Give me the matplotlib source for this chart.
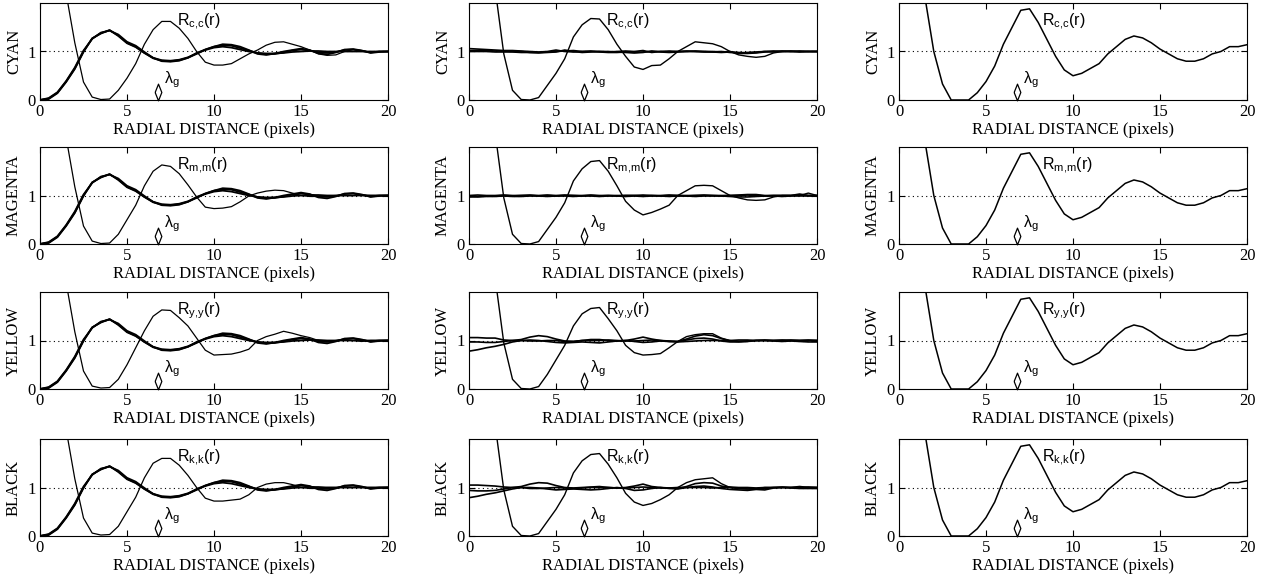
import numpy as np
import matplotlib
matplotlib.use("Agg")
import matplotlib.pyplot as plt

##### Data #####
r = np.arange(0, 20.01, 0.5) # radial distance grid (pixels)

rows = ["CYAN", "MAGENTA", "YELLOW", "BLACK"]
subs = ["c{,}c", "m{,}m", "y{,}y", "k{,}k"]
lam_g = [6.8, 6.6, 6.8] # lambda_g position per column

# left column: single-colour R(r) and the bundle of pair correlations
left_bundle = [
    [0.0, 0.03, 0.15, 0.38, 0.65, 1.0, 1.27, 1.38, 1.44, 1.33,
     1.18, 1.1, 0.97, 0.87, 0.82, 0.81, 0.83, 0.88, 0.96, 1.03,
     1.08, 1.1, 1.08, 1.04, 1.0, 0.97, 0.96, 0.96, 0.97, 0.99,
     1.0, 1.01, 1.01, 1.0, 1.0, 1.0, 1.0, 1.0, 1.0, 1.0, 1.0],
    [0.0, 0.04, 0.16, 0.39, 0.67, 1.02, 1.26, 1.39, 1.43, 1.35,
     1.2, 1.12, 0.99, 0.87, 0.8, 0.79, 0.81, 0.87, 0.95, 1.04,
     1.1, 1.13, 1.12, 1.07, 1.02, 0.97, 0.94, 0.95, 0.98, 1.02,
     1.04, 1.02, 0.98, 0.97, 0.99, 1.03, 1.04, 1.01, 0.98, 1.0, 1.0],
    [0.0, 0.02, 0.14, 0.37, 0.64, 0.99, 1.27, 1.37, 1.44, 1.32,
     1.17, 1.09, 0.97, 0.86, 0.81, 0.8, 0.82, 0.87, 0.97, 1.04,
     1.1, 1.15, 1.14, 1.1, 1.03, 0.95, 0.93, 0.96, 1.0, 1.03,
     1.06, 1.03, 0.96, 0.94, 0.98, 1.04, 1.05, 1.02, 0.97, 0.99, 1.0],
]
left_R = [
    [9.0, 7.0, 4.5, 2.2, 1.18, 0.37, 0.06, 0.01, 0.02, 0.2,
     0.45, 0.75, 1.15, 1.45, 1.62, 1.62, 1.48, 1.27, 1.0, 0.78,
     0.72, 0.72, 0.75, 0.85, 0.95, 1.03, 1.13, 1.19, 1.2, 1.15,
     1.1, 1.03, 0.95, 0.92, 0.93, 1.0, 1.04, 1.02, 0.98, 1.0, 1.0],
    [9.0, 7.0, 4.5, 2.2, 1.18, 0.37, 0.06, 0.01, 0.02, 0.2,
     0.5, 0.8, 1.2, 1.5, 1.63, 1.6, 1.45, 1.22, 0.97, 0.76,
     0.73, 0.74, 0.77, 0.87, 0.99, 1.05, 1.09, 1.11, 1.1, 1.05,
     1.0, 0.98, 0.98, 0.99, 1.0, 1.0, 1.0, 1.01, 1.0, 1.0, 1.0],
    [9.0, 7.0, 4.5, 2.2, 1.18, 0.37, 0.06, 0.02, 0.03, 0.2,
     0.5, 0.85, 1.2, 1.5, 1.63, 1.62, 1.47, 1.3, 1.05, 0.8,
     0.7, 0.71, 0.72, 0.76, 0.82, 1.0, 1.08, 1.13, 1.19, 1.15,
     1.1, 1.06, 1.0, 0.98, 1.0, 1.02, 1.0, 0.98, 1.0, 1.0, 1.0],
    [9.0, 7.0, 4.5, 2.2, 1.18, 0.37, 0.06, 0.02, 0.03, 0.2,
     0.5, 0.8, 1.2, 1.5, 1.6, 1.6, 1.46, 1.25, 1.0, 0.78,
     0.72, 0.72, 0.74, 0.76, 0.85, 1.0, 1.07, 1.1, 1.1, 1.06,
     1.0, 0.98, 0.98, 1.0, 1.0, 1.0, 1.0, 1.0, 1.0, 1.0, 1.0],
]

# middle column: R(r) and the flat cross terms
mid_R = [
    [8.0, 6.0, 4.0, 2.3, 0.95, 0.2, 0.01, 0.0, 0.05, 0.3,
     0.55, 0.85, 1.3, 1.55, 1.68, 1.67, 1.45, 1.15, 0.9, 0.68,
     0.63, 0.71, 0.72, 0.85, 1.0, 1.1, 1.2, 1.18, 1.16, 1.1,
     1.0, 0.93, 0.9, 0.88, 0.9, 0.97, 1.0, 1.0, 1.0, 1.0, 1.0],
    [8.0, 6.0, 4.0, 2.3, 0.95, 0.2, 0.01, 0.0, 0.05, 0.3,
     0.55, 0.85, 1.3, 1.55, 1.7, 1.72, 1.5, 1.2, 0.88, 0.7,
     0.6, 0.65, 0.72, 0.8, 1.0, 1.1, 1.2, 1.21, 1.2, 1.1,
     1.0, 0.95, 0.91, 0.9, 0.91, 0.97, 1.0, 1.0, 1.0, 1.05, 1.0],
    [8.0, 6.0, 4.0, 2.3, 0.95, 0.2, 0.01, 0.0, 0.05, 0.3,
     0.6, 0.9, 1.3, 1.55, 1.66, 1.68, 1.45, 1.2, 0.9, 0.75,
     0.7, 0.71, 0.73, 0.85, 0.98, 1.08, 1.12, 1.14, 1.14, 1.05,
     1.0, 0.98, 0.98, 1.0, 1.0, 1.0, 1.0, 1.0, 1.0, 1.0, 1.0],
    [8.0, 6.0, 4.0, 2.3, 0.95, 0.2, 0.01, 0.0, 0.05, 0.3,
     0.55, 0.85, 1.3, 1.55, 1.68, 1.7, 1.48, 1.2, 0.88, 0.7,
     0.63, 0.67, 0.75, 0.85, 1.0, 1.1, 1.16, 1.18, 1.2, 1.08,
     1.0, 0.98, 0.97, 0.98, 1.0, 1.0, 1.0, 1.0, 1.0, 1.0, 1.0],
]
mid_cyan = [
    [1.06, 1.05, 1.04, 1.03, 1.02, 1.02, 1.01, 1.0, 0.99, 1.0,
     1.03, 1.0, 0.99, 1.0, 1.01, 1.0, 0.99, 1.0, 1.01, 1.0,
     1.02, 0.98, 1.0, 1.01, 1.0, 1.0, 1.01, 1.0, 0.99, 1.0,
     0.98, 0.97, 0.98, 0.99, 1.0, 1.01, 1.0, 1.01, 1.0, 1.0, 1.0],
    [1.02, 1.02, 1.02, 1.01, 1.01, 1.0, 1.0, 0.98, 0.97, 0.98,
     0.99, 1.03, 1.0, 0.98, 0.99, 1.0, 1.0, 0.99, 0.98, 0.97,
     0.98, 1.01, 0.99, 0.98, 0.99, 1.0, 1.0, 1.0, 1.0, 0.99,
     1.0, 0.96, 0.96, 0.97, 0.99, 1.0, 1.01, 1.0, 0.99, 1.0, 1.0],
    [1.0, 1.0, 1.0, 0.99, 0.99, 0.99, 0.98, 0.98, 0.98, 0.99,
     1.0, 1.01, 1.02, 1.0, 1.0, 0.99, 0.98, 0.98, 0.99, 0.98,
     0.99, 1.0, 1.0, 0.99, 1.0, 1.01, 1.0, 0.99, 0.99, 0.98,
     0.99, 0.98, 0.97, 0.98, 1.0, 0.99, 1.0, 1.0, 1.01, 1.0, 1.0],
]
mid_magenta = [
    [1.0, 1.01, 1.0, 1.0, 1.01, 1.0, 1.0, 1.01, 1.0, 1.01,
     1.0, 1.01, 1.0, 1.0, 1.01, 1.0, 1.0, 1.0, 1.0, 1.0,
     1.01, 1.0, 1.0, 1.01, 1.0, 1.0, 1.0, 1.01, 1.0, 1.0,
     1.0, 1.01, 1.02, 1.02, 1.0, 1.0, 1.0, 1.0, 1.03, 1.0, 1.0],
    [0.98, 0.97, 0.98, 0.98, 0.99, 0.98, 0.98, 0.99, 0.99, 0.98,
     0.99, 0.99, 0.98, 0.99, 0.99, 0.98, 0.99, 0.99, 0.98, 0.99,
     0.98, 0.99, 0.99, 0.98, 0.99, 0.99, 0.98, 0.99, 0.99, 0.99,
     0.98, 0.97, 0.97, 0.98, 0.99, 0.99, 0.98, 0.99, 0.99, 0.99, 0.99],
    [0.97, 0.98, 0.99, 0.99, 1.0, 0.99, 1.0, 1.0, 0.99, 1.0,
     0.99, 1.0, 1.0, 0.99, 1.0, 0.99, 1.0, 0.99, 1.0, 1.0,
     0.99, 1.0, 0.99, 1.0, 1.0, 0.99, 1.0, 1.0, 1.0, 0.99,
     1.0, 1.0, 1.01, 1.0, 0.99, 1.0, 1.0, 1.0, 1.01, 1.0, 1.0],
]
mid_yellow = [
    [1.06, 1.06, 1.05, 1.05, 1.01, 1.0, 1.02, 1.07, 1.1, 1.08,
     1.03, 0.99, 0.98, 1.0, 1.02, 1.02, 1.0, 0.99, 1.0, 1.03,
     1.07, 1.03, 1.0, 0.99, 0.98, 1.03, 1.09, 1.12, 1.1, 1.04,
     0.99, 0.98, 0.99, 1.0, 1.01, 1.0, 1.0, 1.01, 1.0, 1.0, 1.0],
    [0.78, 0.81, 0.85, 0.88, 0.92, 0.97, 1.0, 1.01, 1.0, 0.98,
     0.96, 0.95, 0.96, 0.97, 0.96, 0.95, 0.97, 0.99, 1.0, 0.98,
     0.96, 0.97, 0.99, 0.98, 0.98, 1.01, 1.04, 1.05, 1.03, 0.99,
     0.97, 0.97, 0.98, 1.0, 1.0, 0.99, 0.98, 0.99, 0.98, 0.97, 0.97],
    [0.97, 0.97, 0.96, 0.96, 0.98, 1.0, 1.0, 0.99, 0.99, 1.0,
     1.0, 0.98, 0.98, 1.0, 1.0, 1.0, 1.01, 1.0, 0.99, 0.99,
     1.0, 1.01, 1.0, 0.98, 0.97, 0.98, 0.99, 1.0, 1.0, 1.0,
     1.0, 1.01, 1.01, 1.0, 1.0, 1.0, 1.01, 1.0, 1.0, 1.01, 1.0],
]
mid_black = [
    [1.05, 1.05, 1.04, 1.03, 1.01, 1.0, 1.02, 1.07, 1.1, 1.09,
     1.04, 1.0, 0.99, 1.0, 1.01, 1.02, 1.0, 0.99, 1.0, 1.03,
     1.07, 1.02, 1.0, 0.99, 0.98, 1.02, 1.08, 1.1, 1.09, 1.03,
     1.0, 0.98, 0.97, 0.97, 0.98, 1.0, 1.01, 1.0, 1.02, 1.0, 1.0],
    [0.79, 0.82, 0.86, 0.89, 0.93, 0.97, 1.0, 1.0, 0.99, 0.97,
     0.95, 0.96, 0.97, 0.96, 0.95, 0.96, 0.98, 1.0, 0.98, 0.94,
     0.95, 0.98, 1.0, 0.98, 0.97, 1.0, 1.02, 1.03, 1.01, 0.98,
     0.96, 0.95, 0.94, 0.96, 0.95, 0.99, 1.0, 0.99, 0.98, 0.98, 0.98],
    [0.94, 0.93, 0.93, 0.94, 0.97, 1.0, 1.0, 0.98, 0.98, 0.99,
     1.0, 0.99, 0.98, 0.99, 1.0, 1.0, 1.0, 0.99, 0.99, 1.0,
     1.01, 1.0, 0.99, 0.99, 1.0, 1.0, 1.0, 1.0, 0.99, 1.0,
     1.01, 1.0, 1.0, 0.99, 1.0, 1.0, 1.0, 1.0, 1.0, 1.01, 1.0],
]
mid_bundle = [mid_cyan, mid_magenta, mid_yellow, mid_black]

# right column: R(r) alone (same in every row)
right_R = [9.0, 7.0, 4.5, 2.1, 1.0, 0.33, 0.0, 0.0, 0.0, 0.15,
           0.38, 0.7, 1.15, 1.5, 1.85, 1.88, 1.6, 1.25, 0.9, 0.62,
           0.5, 0.55, 0.65, 0.75, 0.95, 1.1, 1.25, 1.32, 1.28, 1.18,
           1.05, 0.95, 0.85, 0.8, 0.8, 0.85, 0.95, 1.0, 1.1, 1.1, 1.14]

##### Style #####
plt.rcParams['font.family'] = ['Liberation Serif', 'DejaVu Serif']
plt.rcParams['font.size'] = 11
plt.rcParams['mathtext.fontset'] = 'custom'
plt.rcParams['mathtext.rm'] = 'Liberation Sans'
plt.rcParams['mathtext.it'] = 'Liberation Sans:italic'

diamond = [(-0.4, 0.0), (0.0, 1.0), (0.4, 0.0), (0.0, -1.0), (-0.4, 0.0)]

fig = plt.figure(figsize=(12.66, 5.82), dpi=100)

col_left = [40, 469, 899] # px
col_w = 348
row_top = [3, 147, 292, 439]
row_h = 97
W, H = 1266.0, 582.0

for i in range(4):
    for j in range(3):
        ax = fig.add_axes([col_left[j] / W, (H - row_top[i] - row_h) / H, col_w / W, row_h / H])

        if j == 0:
            for b in left_bundle:
                ax.plot(r, b, color='k', lw=1.3)
            ax.plot(r, left_R[i], color='k', lw=0.9)
        elif j == 1:
            for b in mid_bundle[i]:
                ax.plot(r, b, color='k', lw=1.2)
            ax.plot(r, mid_R[i], color='k', lw=1.0)
        else:
            ax.plot(r, right_R, color='k', lw=1.1)

        ax.axhline(1, color='k', ls=(0, (1, 3)), lw=0.8)

        # lambda_g marker
        ax.plot([lam_g[j]], [0.165], marker=diamond, markersize=12, mfc='white', mec='k', mew=0.9, clip_on=False)
        ax.text(lam_g[j] + 0.35, 0.42, r'$\mathrm{\lambda_g}$', fontsize=11.5, ha='left', va='center')

        lx = [7.9, 7.9, 8.2][j]
        ax.text(lx, 1.62, r'$\mathrm{R_{%s}(r)}$' % subs[i], fontsize=11.5, ha='left', va='center')

        ax.set_xlim(0, 20)
        ax.set_ylim(0, 2)
        ax.set_xticks([0, 5, 10, 15, 20])
        ax.set_yticks([0, 1])
        ax.tick_params(direction='in', top=True, right=True, length=4, width=0.8, labelsize=12, pad=3)
        for s in ax.spines.values():
            s.set_linewidth(0.8)
        ax.set_xlabel("RADIAL DISTANCE (pixels)", fontsize=12, labelpad=1)
        ax.set_ylabel(rows[i], fontsize=12, labelpad=4)

plt.savefig("out.png", dpi=100)
plt.close('all')
